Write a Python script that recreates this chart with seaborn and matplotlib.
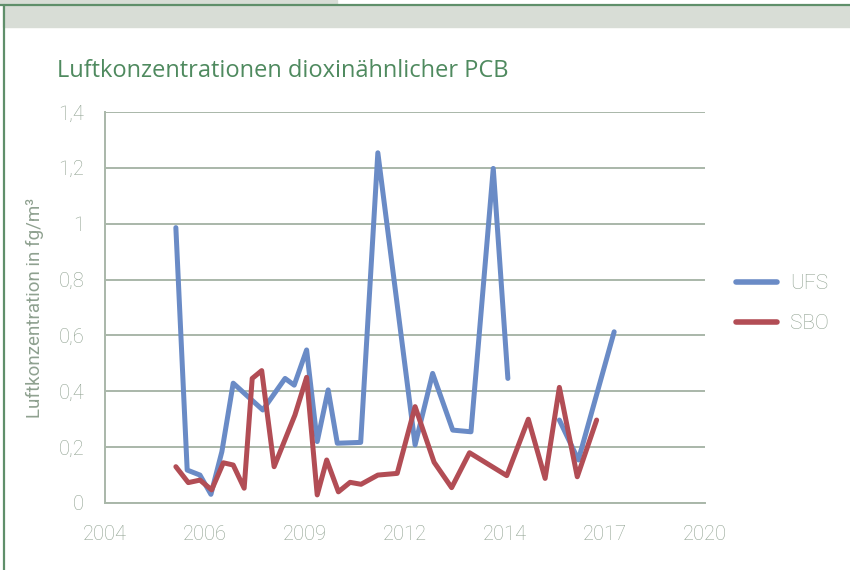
import numpy as np
import pandas as pd
import seaborn as sns
from matplotlib import pyplot as plt
from matplotlib import ticker as plticker
from matplotlib.patches import Rectangle
from matplotlib.lines import Line2D

# measurement dates as decimal years, values in fg/m³
ufs_years = [2005.94, 2006.25, 2006.60, 2006.90, 2007.20, 2007.51, 2008.32,
             2008.93, 2009.18, 2009.52, 2009.81, 2010.11, 2010.36, 2011.00,
             2011.47, 2012.49, 2012.97, 2013.52, 2014.02, 2014.63, 2015.03,
             2015.59, 2016.44, 2016.96, 2017.94]
ufs_values = [0.986, 0.118, 0.100, 0.031, 0.184, 0.429, 0.333,
              0.446, 0.422, 0.548, 0.220, 0.405, 0.214, 0.217,
              1.254, 0.208, 0.464, 0.261, 0.255, 1.198, 0.446,
              np.nan, 0.297, 0.154, 0.613]

sbo_years = [2005.94, 2006.28, 2006.60, 2006.92, 2007.24, 2007.51, 2007.81,
             2008.03, 2008.29, 2008.63, 2009.20, 2009.52, 2009.81, 2010.07,
             2010.39, 2010.71, 2011.01, 2011.47, 2012.00, 2012.49, 2013.01,
             2013.49, 2013.98, 2015.00, 2015.59, 2016.05, 2016.44, 2016.93,
             2017.46]
sbo_values = [0.130, 0.073, 0.082, 0.047, 0.144, 0.136, 0.053,
              0.446, 0.474, 0.130, 0.315, 0.450, 0.029, 0.154,
              0.040, 0.074, 0.067, 0.100, 0.106, 0.345, 0.146,
              0.055, 0.180, 0.098, 0.300, 0.088, 0.414, 0.094,
              0.297]

series_names = ['UFS', 'SBO']
series_colors = ['#6a8bc6', '#b24d55']

# excel style date axis: start 1.1.2004, major unit 1000 days
axis_start = 2004.0
axis_step = 1000 / 365.25
axis_count = 7
y_ticks = [0, 0.2, 0.4, 0.6, 0.8, 1.0, 1.2, 1.4]

GRID = '#a9b7a9'
TEXT = '#8fa190'
TITLE = '#4f8a5f'


def build_frame():
    """long form table, one segment per unbroken run of values"""
    parts = []
    for name, years, values in [('UFS', ufs_years, ufs_values),
                                ('SBO', sbo_years, sbo_values)]:
        df = pd.DataFrame({'Jahr': years, 'Wert': values})
        df['Serie'] = name
        df['Segment'] = name + df['Wert'].isna().cumsum().astype(str)
        parts.append(df.dropna())
    return pd.concat(parts, ignore_index=True)


def comma_fmt(value, pos):
    txt = f'{value:.1f}'.rstrip('0').rstrip('.')
    return txt.replace('.', ',')


sns.set_theme(style='white')
plt.rcParams['font.family'] = ['Roboto', 'DejaVu Sans']
plt.rcParams['font.weight'] = 'light'

fig = plt.figure(figsize=(8.5, 5.7), dpi=100)
ax = fig.add_axes([105 / 850, 1 - 503 / 570, 600 / 850, 391 / 570])

# page frame decoration
fig.patches.append(Rectangle((0, 1 - 4 / 570), 337 / 850, 4 / 570,
                             transform=fig.transFigure, color='#d8ddd6',
                             zorder=0))
fig.patches.append(Rectangle((3 / 850, 1 - 27 / 570), 1, 22 / 570,
                             transform=fig.transFigure, color='#d8ddd6',
                             zorder=0))
fig.lines.append(Line2D([0, 1], [1 - 5 / 570, 1 - 5 / 570],
                        transform=fig.transFigure, color='#5f8f6a', lw=1.6))
fig.lines.append(Line2D([3.5 / 850, 3.5 / 850], [0, 1 - 5 / 570],
                        transform=fig.transFigure, color='#5f8f6a', lw=1.6))

data = build_frame()
sns.lineplot(data=data, x='Jahr', y='Wert', hue='Serie', units='Segment',
             estimator=None, hue_order=series_names,
             palette=dict(zip(series_names, series_colors)),
             linewidth=3.6, sort=False, ax=ax, zorder=3)

x_ticks = [axis_start + k * axis_step for k in range(axis_count)]
ax.set_xlim(x_ticks[0], x_ticks[-1])
ax.set_xticks(x_ticks)
ax.set_xticklabels([str(int(t)) for t in x_ticks])
ax.set_ylim(0, 1.4)
ax.set_yticks(y_ticks)
ax.yaxis.set_major_formatter(plticker.FuncFormatter(comma_fmt))

ax.grid(axis='y', color=GRID, linewidth=1.4)
ax.grid(axis='x', visible=False)
for side in ['top', 'right']:
    ax.spines[side].set_visible(False)
for side in ['left', 'bottom']:
    ax.spines[side].set_color(GRID)
    ax.spines[side].set_linewidth(1.4)
ax.tick_params(axis='both', direction='out', length=4, width=1.4,
               color=GRID, labelcolor=TEXT, labelsize=14.5)
ax.tick_params(axis='x', pad=12)
ax.tick_params(axis='y', pad=11)

ax.set_xlabel('')
ax.set_ylabel('Luftkonzentration in fg/m³', color=TEXT, fontsize=13.5,
              labelpad=10)

leg = ax.legend(loc='center left', bbox_to_anchor=(1.02, 0.51),
                frameon=False, fontsize=15, handlelength=2.0,
                labelspacing=1.0, handletextpad=0.6)
for text in leg.get_texts():
    text.set_color(TEXT)
for line in leg.get_lines():
    line.set_linewidth(4)
    line.set_solid_capstyle('round')

fig.text(57 / 850, 1 - 77 / 570, 'Luftkonzentrationen dioxinähnlicher PCB',
         color=TITLE, fontsize=17, fontweight='normal', va='baseline',
         family=['Open Sans', 'DejaVu Sans'])

fig.savefig('out.png', dpi=100)
